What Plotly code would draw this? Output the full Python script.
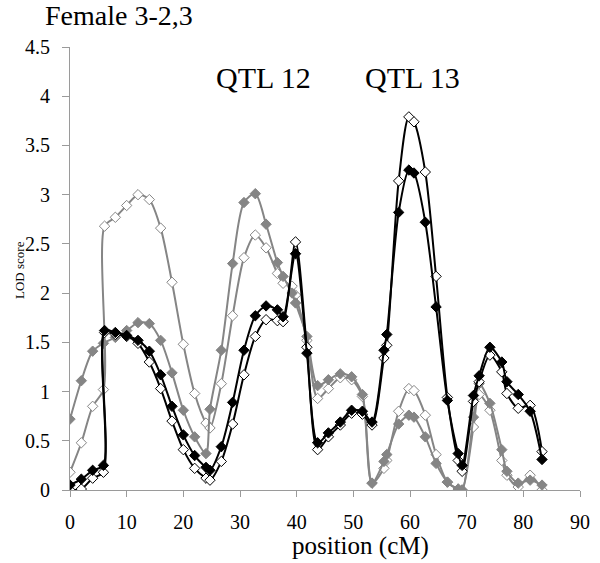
import plotly.graph_objects as go

# positions (cM)
position = [0, 2, 4, 5.9, 6.1, 8, 10, 12, 14, 16, 18, 20, 22, 24, 24.7, 26.7, 28.7,
            30.7, 32.7, 34.6, 36.6, 37.6, 39.2, 39.8, 41.8, 43.7, 45.6, 47.7, 49.7,
            51.6, 53.3, 55.4, 55.9, 58.0, 59.8, 60.7, 62.7, 64.6, 66.6, 68.5, 69.2,
            71.2, 72.2, 74.1, 76.2, 77.1, 79.1, 81.2, 83.3]

black_filled = [0.05, 0.11, 0.20, 0.25, 1.62, 1.60, 1.57, 1.52, 1.41, 1.17, 0.85, 0.56,
                0.35, 0.23, 0.20, 0.44, 0.89, 1.42, 1.77, 1.87, 1.83, 1.76, None, 2.40,
                1.39, 0.48, 0.58, 0.69, 0.81, 0.80, 0.69, 1.42, 1.58, 2.82, 3.25, 3.22,
                2.72, 1.86, 0.91, 0.37, 0.25, 0.96, 1.16, 1.45, 1.30, 1.10, 0.97, 0.80, 0.31]

black_open = [0.00, 0.01, 0.12, 0.18, 1.60, 1.58, 1.56, 1.49, 1.30, 1.03, 0.70, 0.41,
              0.22, 0.12, 0.10, 0.29, 0.67, 1.17, 1.56, 1.73, 1.72, 1.71, None, 2.52,
              1.45, 0.41, 0.54, 0.66, 0.78, 0.77, 0.66, 1.34, 1.47, 3.14, 3.79, 3.74,
              3.23, 2.17, 0.94, 0.30, 0.19, 0.90, 1.10, 1.37, 1.20, 0.98, 0.83, 0.86, 0.39]

gray_filled = [0.72, 1.11, 1.41, 1.49, None, 1.55, 1.62, 1.70, 1.69, 1.52, 1.19, 0.81,
               0.54, 0.37, 0.82, 1.42, 2.30, 2.92, 3.01, 2.70, 2.31, 2.17, 2.00, 1.90,
               1.56, 1.06, 1.12, 1.18, 1.15, 0.97, 0.07, 0.29, 0.36, 0.67, 0.76, 0.74,
               0.54, 0.27, 0.08, 0.01, 0.00, 0.74, 1.08, 0.88, 0.41, 0.19, 0.07, 0.10, 0.05]

gray_open = [0.18, 0.48, 0.85, 1.02, 2.68, 2.77, 2.89, 3.00, 2.95, 2.66, 2.11, 1.48,
             0.98, 0.68, 0.63, 1.08, 1.77, 2.36, 2.59, 2.46, 2.20, 2.10, 2.07, 1.98,
             1.52, 0.93, 1.03, 1.14, 1.12, 0.95, 0.07, 0.22, 0.30, 0.80, 1.03, 1.01,
             0.76, 0.36, 0.08, 0.01, 0.00, 0.64, 0.97, 0.81, 0.30, 0.15, 0.03, 0.15, 0.00]

x_ticks = [0, 10, 20, 30, 40, 50, 60, 70, 80, 90]
y_ticks = [0, 0.5, 1, 1.5, 2, 2.5, 3, 3.5, 4, 4.5]

GRAY = "#858585"
AXIS = "#9a9a9a"
font = "Liberation Serif"

W, H = 600, 563
L, R, T, B = 70, 10, 47, 73
PW, PH = W - L - R, H - T - B


def px_to_paper_x(px):
    return (px - L) / PW


def px_to_paper_y(py):
    return (H - B - py) / PH


fig = go.Figure()


def add(y, color, filled, width):
    fig.add_trace(go.Scatter(
        x=position, y=y, mode="lines+markers", connectgaps=True,
        line=dict(color=color, width=width, shape="spline", smoothing=0.8),
        marker=dict(symbol="diamond", size=8,
                    color=color if filled else "white",
                    line=dict(color=color, width=1)),
        showlegend=False))


add(gray_open, GRAY, False, 2)
add(gray_filled, GRAY, True, 2)
add(black_open, "#000000", False, 2)
add(black_filled, "#000000", True, 2)

fig.update_layout(
    width=W, height=H,
    margin=dict(l=L, r=R, t=T, b=B),
    paper_bgcolor="white", plot_bgcolor="white",
    font=dict(family=font, color="black"),
    annotations=[
        dict(text="Female 3-2,3", x=px_to_paper_x(42), y=px_to_paper_y(16),
             xref="paper", yref="paper", showarrow=False, font=dict(size=28),
             xanchor="left", yanchor="middle"),
        dict(text="QTL 12", x=34.1, y=4.19, xref="x", yref="y", showarrow=False,
             font=dict(size=30), xanchor="center", yanchor="middle"),
        dict(text="QTL 13", x=60.4, y=4.19, xref="x", yref="y", showarrow=False,
             font=dict(size=30), xanchor="center", yanchor="middle"),
        dict(text="position (cM)", x=px_to_paper_x(366), y=px_to_paper_y(546),
             xref="paper", yref="paper", showarrow=False, font=dict(size=25),
             xanchor="center", yanchor="middle"),
        dict(text="LOD score", x=px_to_paper_x(18), y=px_to_paper_y(270),
             xref="paper", yref="paper", showarrow=False, font=dict(size=13),
             textangle=-90, xanchor="center", yanchor="middle"),
    ],
)

fig.update_xaxes(range=[0, 90], tickvals=x_ticks, showgrid=False, zeroline=False,
                 showline=True, linecolor=AXIS, linewidth=1,
                 ticks="outside", ticklen=6, tickcolor=AXIS,
                 tickfont=dict(size=20), ticklabelstandoff=8)
fig.update_yaxes(range=[0, 4.5], tickvals=y_ticks, showgrid=False, zeroline=False,
                 showline=True, linecolor=AXIS, linewidth=1,
                 ticks="outside", ticklen=7, tickcolor=AXIS,
                 tickfont=dict(size=20), ticklabelstandoff=8)

fig.write_html("out.html", config={"displayModeBar": False},
               post_script="document.body.style.margin='0';")
